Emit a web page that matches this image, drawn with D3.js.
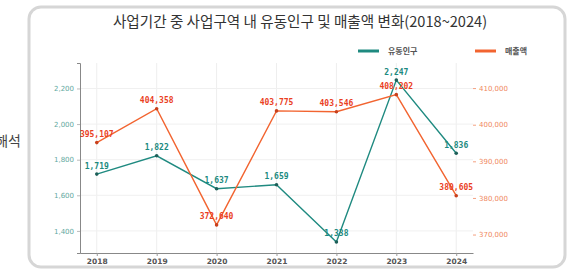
<!DOCTYPE html>
<html>
<head>
<meta charset="utf-8">
<script src="https://cdn.jsdelivr.net/npm/d3@7"></script>
<style>
body { margin: 0; background: #fff; }
svg { display: block; font-family: "Noto Sans CJK KR", "Noto Sans", sans-serif; }
</style>
</head>
<body>
<svg width="586" height="273"></svg>
<script>
var years = ["2018", "2019", "2020", "2021", "2022", "2023", "2024"];
var population = [1719, 1822, 1637, 1659, 1338, 2247, 1836];
var sales = [395107, 404358, 372640, 403775, 403546, 408202, 380605];
var popTicks = [1400, 1600, 1800, 2000, 2200];
var salesTicks = [370000, 380000, 390000, 400000, 410000];

var teal = "#1f8a80", orange = "#f26430", red = "#ea3f1f";
var fmt = d3.format(",");

var svg = d3.select("svg");

// side text + card
svg.append("text").attr("x", 21).attr("y", 146).attr("text-anchor", "end")
  .attr("font-size", 14).attr("fill", "#444").text("해석");

svg.append("rect").attr("x", 29).attr("y", 7).attr("width", 536).attr("height", 260)
  .attr("rx", 12).attr("fill", "#fff").attr("stroke", "#d6d6d6").attr("stroke-width", 3);

svg.append("text").attr("x", 300).attr("y", 27).attr("text-anchor", "middle")
  .attr("font-size", 14.6).attr("fill", "#333")
  .text("사업기간 중 사업구역 내 유동인구 및 매출액 변화(2018~2024)");

var pLeft = 80, pRight = 473, pTop = 63, pBottom = 253;

var x = d3.scalePoint().domain(years).range([pLeft, pRight]).padding(0.28);
var yL = d3.scaleLinear().domain([1276, 2343]).range([pBottom, pTop]);
var yR = d3.scaleLinear().domain([364960, 416850]).range([pBottom, pTop]);

// grid
svg.append("g").selectAll("line").data(years).enter().append("line")
  .attr("x1", function(d) { return x(d); }).attr("x2", function(d) { return x(d); })
  .attr("y1", pTop).attr("y2", pBottom).attr("stroke", "#eeeeee").attr("stroke-width", 1);
svg.append("g").selectAll("line").data(popTicks).enter().append("line")
  .attr("x1", pLeft).attr("x2", pRight)
  .attr("y1", function(d) { return yL(d); }).attr("y2", function(d) { return yL(d); })
  .attr("stroke", "#f0f0f0").attr("stroke-width", 1);

// axes
var axL = svg.append("g").attr("transform", "translate(" + pLeft + ",0)")
  .call(d3.axisLeft(yL).tickValues(popTicks).tickFormat(fmt).tickSize(3));
axL.select(".domain").attr("stroke", "#888");
axL.selectAll("line").attr("stroke", "#bbb");
axL.selectAll("text").attr("fill", "#5fa8a0").attr("font-size", 7).attr("font-family", "DejaVu Sans");

var axR = svg.append("g").attr("transform", "translate(" + pRight + ",0)")
  .call(d3.axisRight(yR).tickValues(salesTicks).tickFormat(fmt).tickSize(3));
axR.select(".domain").remove();
axR.selectAll("line").attr("stroke", "#f4a080");
axR.selectAll("text").attr("fill", "#f08860").attr("font-size", 7).attr("font-family", "DejaVu Sans");

var axB = svg.append("g").attr("transform", "translate(0," + pBottom + ")")
  .call(d3.axisBottom(x).tickSize(3).tickSizeOuter(0));
axB.select(".domain").attr("stroke", "#888");
axB.selectAll("line").attr("stroke", "#999");
axB.selectAll("text").attr("fill", "#555").attr("font-size", 7.5).attr("font-family", "DejaVu Sans")
  .attr("font-weight", "bold");

// series
function series(vals, y, color, dotColor, labelColor) {
  var line = d3.line().x(function(d, i) { return x(years[i]); }).y(function(d) { return y(d); });
  svg.append("path").datum(vals).attr("d", line).attr("fill", "none")
    .attr("stroke", color).attr("stroke-width", 1.4);
  svg.append("g").selectAll("circle").data(vals).enter().append("circle")
    .attr("cx", function(d, i) { return x(years[i]); }).attr("cy", function(d) { return y(d); })
    .attr("r", 1.8).attr("fill", dotColor);
  svg.append("g").selectAll("text").data(vals).enter().append("text")
    .attr("x", function(d, i) { return x(years[i]); }).attr("y", function(d) { return y(d) - 5.5; })
    .attr("text-anchor", "middle").attr("font-size", 8).attr("font-weight", "bold")
    .attr("font-family", "DejaVu Sans Mono").attr("fill", labelColor)
    .text(function(d) { return fmt(d); });
}
series(population, yL, teal, "#1d5f58", "#1c8a80");
series(sales, yR, orange, "#c8401c", red);

// legend
var legend = [["유동인구", teal, 358], ["매출액", orange, 475]];
legend.forEach(function(l) {
  svg.append("line").attr("x1", l[2]).attr("x2", l[2] + 21).attr("y1", 51).attr("y2", 51)
    .attr("stroke", l[1]).attr("stroke-width", 3);
  svg.append("text").attr("x", l[2] + 30).attr("y", 54).attr("font-size", 8)
    .attr("font-weight", "bold").attr("fill", "#555").text(l[0]);
});
</script>
</body>
</html>
